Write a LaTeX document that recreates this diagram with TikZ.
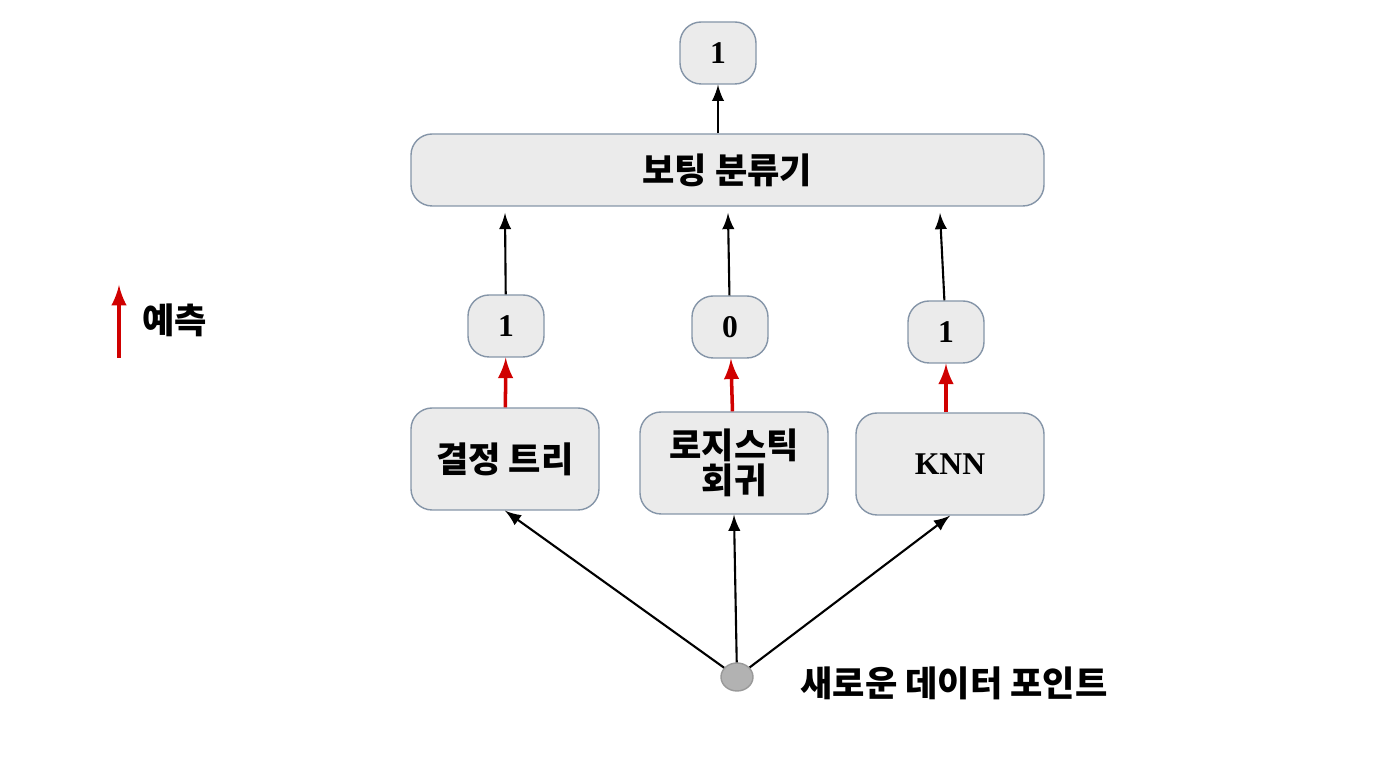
\documentclass[tikz,border=0pt]{standalone}
\usepackage{fontspec}
\setmainfont{Liberation Serif}
\newfontfamily\kr{Noto Sans CJK KR}
\usetikzlibrary{calc}
\usetikzlibrary{positioning}
\usetikzlibrary{shapes.geometric}
\definecolor{boxfill}{HTML}{EBEBEB}
\definecolor{boxline}{HTML}{8595A8}
\definecolor{predred}{HTML}{D00000}
\tikzstyle{boxnode} = [draw=boxline, fill=boxfill, rounded corners=6pt, align=center, inner sep=0pt, font=\fontsize{9}{11}\selectfont\bfseries]
\tikzstyle{numnode} = [boxnode, minimum width=0.76cm, minimum height=0.62cm]
\tikzstyle{modelnode} = [boxnode, minimum width=1.88cm, minimum height=1.02cm]
\tikzstyle{blackarrow} = [-latex, black, line width=0.6pt]
\tikzstyle{redarrow} = [-latex, predred, line width=1pt]

\begin{document}
\begin{tikzpicture}
    \useasboundingbox (0,0) rectangle (13.76,7.68);
    \node[numnode] (out_one) at (7.18,7.15) {1};
    \node[boxnode, minimum width=6.33cm, minimum height=0.72cm, font=\kr\fontsize{10}{12}\selectfont\bfseries] (vote) at (7.275,5.98) {보팅 분류기};

    \node[numnode] (dt_one) at (5.06,4.42) {1};
    \node[numnode] (lr_zero) at (7.30,4.41) {0};
    \node[numnode] (knn_one) at (9.46,4.36) {1};

    \node[modelnode, font=\kr\fontsize{10}{12}\selectfont\bfseries] (dt) at (5.05,3.09) {결정 트리};
    \node[modelnode, font=\kr\fontsize{10}{12}\selectfont\bfseries] (lr) at (7.34,3.05) {로지스틱\\[-2pt]회귀};
    \node[modelnode] (knn) at (9.50,3.04) {KNN};

    \node[draw=gray!80, fill=gray!60, ellipse, minimum width=0.32cm, minimum height=0.28cm, inner sep=0pt] (point) at (7.37,0.91) {};
    \node[anchor=west, font=\kr\fontsize{10}{12}\selectfont\bfseries] (point_lbl) at (7.88,0.85) {새로운 데이터 포인트};

    \draw[blackarrow] (vote.north -| out_one) -- (out_one);
    \draw[blackarrow] (dt_one) -- (5.05,5.55);
    \draw[blackarrow] (lr_zero) -- (7.28,5.55);
    \draw[blackarrow] (knn_one) -- (9.40,5.55);
    \draw[redarrow] (dt) -- (dt_one);
    \draw[redarrow] (lr) -- (lr_zero);
    \draw[redarrow] (knn.north -| knn_one) -- (knn_one);
    \draw[blackarrow] (point) -- (dt.south);
    \draw[blackarrow] (point) -- (lr.south);
    \draw[blackarrow] (point) -- (knn.south);

    % legend
    \coordinate (leg_s) at (1.19,4.10);
    \coordinate (leg_e) at (1.19,4.83);
    \draw[redarrow] (leg_s) -- (leg_e);
    \node[anchor=west, font=\kr\fontsize{10}{12}\selectfont\bfseries] (leg_lbl) at (1.30,4.48) {예측};
\end{tikzpicture}
\end{document}
